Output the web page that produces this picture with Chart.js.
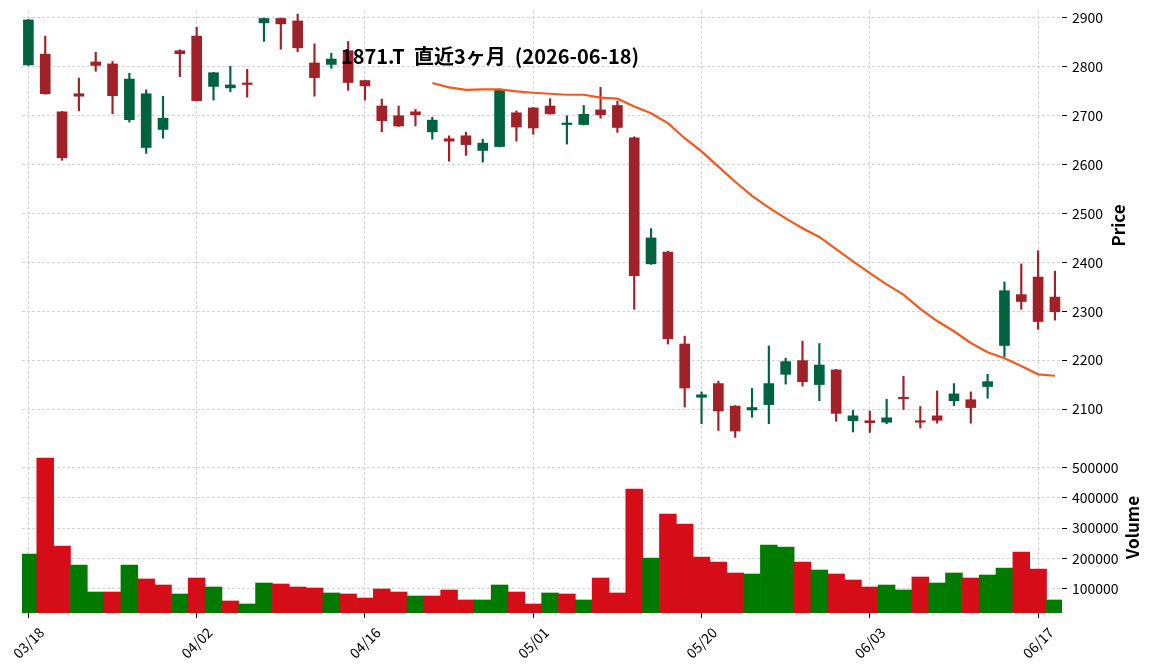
<!DOCTYPE html>
<html><head><meta charset="utf-8">
<script src="https://cdn.jsdelivr.net/npm/chart.js@4.4.1/dist/chart.umd.min.js"></script>
<style>
html,body{margin:0;padding:0;background:#fff;}
#wrap{position:relative;width:1152px;height:670px;overflow:hidden;background:#fff;}
#c1{position:absolute;left:0;top:0;width:1152px;height:442px;}
#c2{position:absolute;left:0;top:440px;width:1152px;height:230px;}
</style></head><body>
<div id="wrap"><canvas id="c1" width="1152" height="442"></canvas><canvas id="c2" width="1152" height="230"></canvas></div>
<script>
const TITLE = '1871.T  直近3ヶ月  (2026-06-18)';
const dates = ['03/18','03/19','03/23','03/24','03/25','03/26','03/27','03/30','03/31','04/01',
  '04/02','04/03','04/06','04/07','04/08','04/09','04/10','04/13','04/14','04/15',
  '04/16','04/17','04/20','04/21','04/22','04/23','04/24','04/27','04/28','04/30',
  '05/01','05/07','05/08','05/11','05/12','05/13','05/14','05/15','05/18','05/19',
  '05/20','05/21','05/22','05/25','05/26','05/27','05/28','05/29','06/01','06/02',
  '06/03','06/04','06/05','06/08','06/09','06/10','06/11','06/12','06/15','06/16',
  '06/17','06/18'];
const opens = [2804,2826,2708,2745,2810,2806,2692,2635,2672,2833,
  2863,2760,2757,2767,2890,2899,2894,2808,2805,2833,
  2772,2720,2700,2708,2667,2653,2659,2629,2637,2706,
  2716,2720,2682,2682,2712,2721,2655,2397,2421,2233,
  2124,2152,2106,2098,2109,2171,2199,2150,2180,2076,
  2076,2073,2123,2076,2086,2117,2119,2146,2230,2334,
  2370,2329];
const highs = [2897,2863,2709,2777,2830,2811,2787,2753,2740,2835,
  2881,2789,2801,2795,2900,2900,2908,2847,2828,2852,
  2773,2734,2720,2713,2697,2659,2666,2652,2755,2710,
  2717,2735,2700,2721,2758,2730,2657,2469,2423,2249,
  2135,2157,2107,2142,2229,2204,2239,2234,2181,2097,
  2096,2120,2167,2105,2137,2152,2135,2171,2360,2397,
  2424,2382];
const lows = [2803,2744,2609,2710,2791,2704,2687,2623,2654,2780,
  2730,2732,2749,2738,2852,2836,2831,2740,2797,2752,
  2732,2667,2678,2679,2652,2607,2619,2605,2636,2648,
  2662,2703,2642,2681,2695,2666,2304,2396,2233,2104,
  2070,2056,2042,2083,2070,2151,2147,2117,2075,2053,
  2052,2070,2099,2061,2071,2107,2071,2122,2207,2304,
  2263,2282];
const closes = [2896,2745,2614,2740,2803,2741,2775,2745,2695,2827,
  2731,2788,2763,2764,2899,2888,2839,2778,2816,2768,
  2761,2690,2679,2702,2691,2648,2641,2644,2754,2677,
  2675,2704,2683,2703,2702,2676,2373,2450,2244,2143,
  2129,2096,2055,2103,2152,2197,2156,2190,2091,2086,
  2072,2082,2121,2073,2077,2131,2103,2156,2342,2320,
  2279,2299];
const volumes = [215000,530500,241300,178900,90100,90100,178900,132900,113100,83600,
  136100,106600,60600,50700,119700,116400,106600,103300,86900,83600,
  70400,100000,90100,77000,77000,96700,63900,63900,113100,90100,
  50700,86900,83600,63900,136100,86900,428600,201900,346500,313600,
  205200,188700,152600,149300,244600,238000,188700,162400,149300,129600,
  106600,113100,96700,139400,119700,152600,136100,146000,169000,221600,
  165700,63900];
const ma25 = [null,null,null,null,null,null,null,null,null,null,
  null,null,null,null,null,null,null,null,null,null,
  null,null,null,null,2767,2758,2753,2754,2754,2750,
  2747,2745,2743,2743,2737,2735,2719,2705,2685,2654,
  2627,2596,2565,2536,2512,2490,2470,2452,2427,2402,
  2378,2355,2334,2305,2280,2259,2235,2216,2204,2188,
  2171,2168];
const xTickIdx = [0,10,20,30,40,50,60];
const priceTicks = [2100,2200,2300,2400,2500,2600,2700,2800,2900];
const volTicks = [100000,200000,300000,400000,500000];

const FONT = "'Noto Sans CJK JP', 'Noto Sans', sans-serif";
const UP = '#006340', DOWN = '#a02128', VUP = '#007a00', VDOWN = '#d50d18';
const GRID = '#c9c9c9';
const XMIN = -0.38, XMAX = 61.42;
const idx = dates.map((_, i) => i);
const candleColors = idx.map(i => closes[i] >= opens[i] ? UP : DOWN);
const volColors = idx.map(i => (i === 0 || closes[i] >= closes[i-1]) ? VUP : VDOWN);
const fixTicks = vals => scale => { scale.ticks = vals.map(v => ({value: v})); };
const fixWidth = w => s => { s.width = w; s.paddingTop = 0; s.paddingBottom = 0; };
const fixHeight = h => s => { s.height = h; s.paddingLeft = 0; s.paddingRight = 0; };
const plainNum = v => String(v);

const titlePlugin = {
  id: 'ttl',
  afterDraw(chart) {
    const ctx = chart.ctx;
    ctx.save();
    ctx.fillStyle = '#000';
    ctx.font = 'bold 20px ' + FONT;
    ctx.textAlign = 'center';
    ctx.textBaseline = 'alphabetic';
    ctx.fillText(TITLE, 490, 63.5);
    ctx.font = 'bold 17px ' + FONT;
    ctx.translate(1125, 225.5);
    ctx.rotate(-Math.PI / 2);
    ctx.fillText('Price', 0, 0);
    ctx.restore();
  }
};
const volLabelPlugin = {
  id: 'vlab',
  afterDraw(chart) {
    const ctx = chart.ctx;
    ctx.save();
    ctx.fillStyle = '#000';
    ctx.font = 'bold 17px ' + FONT;
    ctx.textAlign = 'center';
    ctx.textBaseline = 'alphabetic';
    ctx.translate(1139, 87.5);
    ctx.rotate(-Math.PI / 2);
    ctx.fillText('Volume', 0, 0);
    ctx.restore();
  }
};

const gridOpts = {color: GRID, lineWidth: 0.8, borderDash: [3, 2], offset: false};
const borderOpts = {display: false, dash: [3, 2]};
const tickGrid = Object.assign({}, gridOpts, {tickColor: '#000', tickLength: 5, tickWidth: 1, tickBorderDash: []});

new Chart(document.getElementById('c1'), {
  type: 'bar',
  data: {
    datasets: [
      {type: 'line', order: 0, data: idx.filter(i => ma25[i] != null).map(i => ({x: i, y: ma25[i]})),
       borderColor: '#f5581c', borderWidth: 2.2, pointRadius: 0, tension: 0, fill: false},
      {type: 'bar', order: 1, data: idx.map(i => ({x: i, y: [opens[i], closes[i]]})),
       backgroundColor: candleColors, barThickness: 10, grouped: false, borderWidth: 0, minBarLength: 1.5},
      {type: 'bar', order: 2, data: idx.map(i => ({x: i, y: [lows[i], highs[i]]})),
       backgroundColor: candleColors, barThickness: 1.5, grouped: false, borderWidth: 0}
    ]
  },
  options: {
    responsive: false, animation: false, events: [],
    layout: {padding: {left: 22, top: 11, right: 0, bottom: 2}},
    plugins: {legend: {display: false}, tooltip: {enabled: false}},
    scales: {
      x: {type: 'linear', min: XMIN, max: XMAX, offset: false, afterBuildTicks: fixTicks(xTickIdx),
          ticks: {display: false}, grid: Object.assign({}, gridOpts, {drawTicks: false}), border: borderOpts,
          afterFit: fixHeight(0)},
      y: {position: 'right', min: 2036.6, max: 2914.3, beginAtZero: false, afterBuildTicks: fixTicks(priceTicks),
          ticks: {font: {family: FONT, size: 14}, color: '#000', padding: 5, callback: plainNum},
          grid: tickGrid, border: borderOpts, afterFit: fixWidth(90)}
    }
  },
  plugins: [titlePlugin]
});

new Chart(document.getElementById('c2'), {
  type: 'bar',
  data: {
    datasets: [
      {data: idx.map(i => ({x: i, y: volumes[i]})), backgroundColor: volColors,
       barPercentage: 1, categoryPercentage: 1, borderWidth: 0, clip: 0}
    ]
  },
  options: {
    responsive: false, animation: false, events: [],
    layout: {padding: {left: 22, top: 2, right: 0, bottom: 0}},
    plugins: {legend: {display: false}, tooltip: {enabled: false}},
    scales: {
      x: {type: 'linear', min: XMIN, max: XMAX, offset: false, afterBuildTicks: fixTicks(xTickIdx),
          ticks: {font: {family: FONT, size: 14}, color: '#000', autoSkip: false, minRotation: 45, maxRotation: 45,
                  padding: 6, labelOffset: 13, callback: v => dates[v] ?? ''},
          grid: tickGrid, border: borderOpts, afterFit: fixHeight(57)},
      y: {position: 'right', min: 21100, max: 583150, beginAtZero: false, afterBuildTicks: fixTicks(volTicks),
          ticks: {font: {family: FONT, size: 14}, color: '#000', padding: 5, callback: plainNum},
          grid: tickGrid, border: borderOpts, afterFit: fixWidth(90)}
    }
  },
  plugins: [volLabelPlugin]
});
</script>
</body></html>
